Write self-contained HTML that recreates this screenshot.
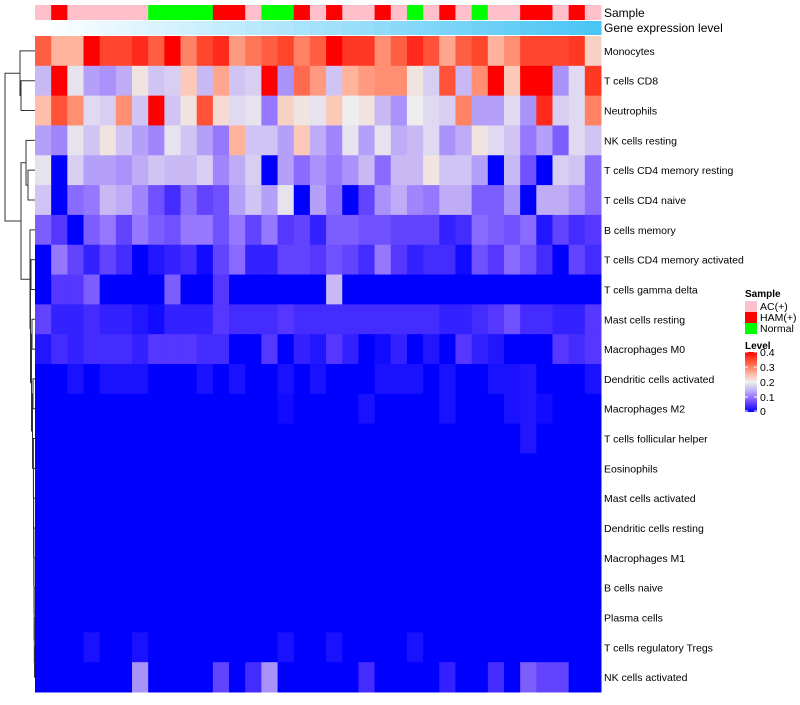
<!DOCTYPE html>
<html><head><meta charset="utf-8">
<style>
body{margin:0;background:#fff;}
svg text{font-family:"Liberation Sans",sans-serif;fill:#000;}
</style></head>
<body>
<svg id="chart" width="800" height="700" xmlns="http://www.w3.org/2000/svg"></svg>
<script>
const rowNames=["Monocytes","T cells CD8","Neutrophils","NK cells resting","T cells CD4 memory resting","T cells CD4 naive","B cells memory","T cells CD4 memory activated","T cells gamma delta","Mast cells resting","Macrophages M0","Dendritic cells activated","Macrophages M2","T cells follicular helper","Eosinophils","Mast cells activated","Dendritic cells resting","Macrophages M1","B cells naive","Plasma cells","T cells regulatory  Tregs","NK cells activated"];
const sampleGroups=["AC","HAM","AC","AC","AC","AC","AC","Normal","Normal","Normal","Normal","HAM","HAM","AC","Normal","Normal","HAM","AC","HAM","AC","AC","HAM","AC","Normal","AC","HAM","AC","Normal","AC","AC","HAM","HAM","AC","HAM","AC"];
const rowMonocytes=[0.33,0.26,0.26,0.4,0.35,0.35,0.37,0.33,0.4,0.3,0.35,0.37,0.28,0.31,0.33,0.35,0.3,0.33,0.4,0.36,0.36,0.29,0.33,0.37,0.34,0.27,0.33,0.35,0.26,0.29,0.35,0.35,0.35,0.36,0.23];
const rowCD8=[0.15,0.4,0.19,0.13,0.12,0.14,0.21,0.16,0.17,0.24,0.15,0.27,0.16,0.17,0.4,0.12,0.32,0.28,0.16,0.26,0.28,0.29,0.29,0.21,0.17,0.34,0.15,0.29,0.4,0.24,0.4,0.4,0.12,0.18,0.36];
const rowNeut=[0.25,0.34,0.29,0.18,0.17,0.29,0.16,0.4,0.16,0.21,0.34,0.22,0.18,0.19,0.1,0.23,0.21,0.19,0.24,0.2,0.21,0.15,0.12,0.2,0.18,0.17,0.3,0.13,0.13,0.18,0.12,0.37,0.17,0.18,0.3];
const rowNKr=[0.13,0.11,0.19,0.16,0.21,0.16,0.13,0.11,0.19,0.16,0.13,0.1,0.26,0.16,0.16,0.13,0.24,0.14,0.11,0.19,0.13,0.19,0.14,0.15,0.18,0.12,0.14,0.21,0.18,0.16,0.1,0.13,0.08,0.18,0.16];
const rowCD4mr=[0.19,0,0.17,0.13,0.13,0.12,0.14,0.16,0.15,0.15,0.17,0.11,0.14,0.17,0,0.13,0.09,0.12,0.1,0.12,0.15,0.09,0.15,0.15,0.21,0.16,0.16,0.13,0,0.15,0.07,0,0.17,0.16,0.09];
const rowCD4n=[0.16,0,0.09,0.1,0.15,0.14,0.11,0.07,0.04,0.09,0.06,0.07,0.13,0.16,0.13,0.19,0,0.13,0.09,0,0.06,0.12,0.14,0.11,0.1,0.14,0.14,0.08,0.08,0.12,0,0.14,0.14,0.12,0.09];
const rowBmem=[0.08,0.05,0,0.08,0.1,0.06,0.1,0.08,0.07,0.1,0.1,0.07,0.1,0.06,0.1,0.05,0.06,0.03,0.08,0.08,0.07,0.07,0.06,0.06,0.06,0.03,0.04,0.09,0.08,0.07,0.09,0.02,0.06,0.04,0.05];
const rowCD4ma=[0,0.1,0.06,0.03,0.06,0.04,0,0.02,0.03,0.04,0.01,0.06,0.09,0.03,0.03,0.06,0.06,0.05,0.07,0.06,0.04,0.1,0.05,0.03,0.04,0.04,0.01,0.07,0.05,0.09,0.07,0.04,0,0.06,0.04];
const rowGD=[0,0.05,0.05,0.08,0,0,0,0,0.08,0,0,0.05,0,0,0,0,0,0,0.15,0,0,0,0,0,0,0,0,0,0,0,0,0,0,0,0];
const rowMastR=[0.06,0.03,0.03,0.04,0.03,0.03,0.02,0.01,0.03,0.03,0.03,0.05,0.04,0.04,0.04,0.05,0.04,0.04,0.04,0.04,0.04,0.04,0.04,0.04,0.04,0.03,0.03,0.04,0.05,0.07,0.04,0.04,0.03,0.03,0.05];
const rowM0=[0.02,0.04,0.03,0.04,0.04,0.04,0.03,0.05,0.05,0.05,0.04,0.04,0,0,0.05,0,0.03,0.02,0.05,0.03,0,0.01,0.03,0,0.02,0,0.05,0.03,0.02,0,0,0,0.05,0.04,0.05];
const rowDCa=[0,0,0.015,0,0.015,0.015,0.015,0,0,0,0.015,0,0.015,0,0,0.015,0,0.015,0,0,0,0.015,0.015,0.015,0,0.015,0,0,0.015,0.015,0.02,0,0,0,0.015];
const rowM2=[0,0,0,0,0,0,0,0,0,0,0,0,0,0,0,0.01,0,0,0,0,0.015,0,0,0,0,0.015,0,0,0,0.015,0.02,0.01,0,0,0];
const rowTfh=[0,0,0,0,0,0,0,0,0,0,0,0,0,0,0,0,0,0,0,0,0,0,0,0,0,0,0,0,0,0,0.02,0,0,0,0];
const rowZero=[0,0,0,0,0,0,0,0,0,0,0,0,0,0,0,0,0,0,0,0,0,0,0,0,0,0,0,0,0,0,0,0,0,0,0];
const rowTreg=[0,0,0,0.015,0,0,0.015,0,0,0,0,0,0,0,0,0.015,0,0,0.015,0,0,0,0,0.015,0,0,0,0,0,0,0,0,0,0,0];
const rowNKa=[0,0,0,0,0,0,0.12,0,0,0,0,0.06,0,0.04,0.12,0,0,0,0,0,0.04,0,0,0,0,0.03,0,0,0.04,0,0.08,0.06,0.06,0,0];
const matrix=[rowMonocytes,rowCD8,rowNeut,rowNKr,rowCD4mr,rowCD4n,rowBmem,rowCD4ma,rowGD,rowMastR,rowM0,rowDCa,rowM2,rowTfh,rowZero,rowZero,rowZero,rowZero,rowZero,rowZero,rowTreg,rowNKa];
const legendTicks=[0.4,0.3,0.2,0.1,0];
const legendLabels=["0.4","0.3","0.2","0.1","0"];

const NS="http://www.w3.org/2000/svg";
const svg=document.getElementById('chart');
const X0=35,X1=601,Y0=36,Y1=692;
const nC=sampleGroups.length,nR=rowNames.length;
const cw=(X1-X0)/nC,rh=(Y1-Y0)/nR;
const xPos=i=>X0+i*cw;
const yPos=r=>Y0+r*rh;
const stops=[[0,[0,0,255]],[0.05,[85,55,255]],[0.1,[150,120,255]],[0.15,[200,185,245]],[0.2,[238,238,238]],[0.25,[255,190,170]],[0.3,[255,130,100]],[0.35,[255,70,45]],[0.4,[255,0,0]]];
function color(v){v=Math.max(0,Math.min(0.4,v));for(let k=1;k<stops.length;k++){if(v<=stops[k][0]){const a=stops[k-1],b=stops[k];const t=(v-a[0])/(b[0]-a[0]);const c=a[1].map((x,j)=>Math.round(x+(b[1][j]-x)*t));return 'rgb('+c.join(',')+')';}}return 'rgb(255,0,0)';}
const groupColor={AC:"#FFC0CB",HAM:"#FF0000",Normal:"#00FF00"};
function mk(tag,attrs,parent){const e=document.createElementNS(NS,tag);for(const k in attrs)e.setAttribute(k,attrs[k]);(parent||svg).appendChild(e);return e;}

const gS=mk('g',{});


sampleGroups.forEach((g,i)=>{const r=mk('rect',{x:xPos(i),y:5,width:cw+0.5,height:15,fill:groupColor[g]},gS);

});
const gG=mk('g',{});


for(let i=0;i<nC;i++){const t=i/(nC-1);const c=[Math.round(255-t*(255-75)),Math.round(255-t*(255-197)),Math.round(255-t*(255-245))];
const r=mk('rect',{x:xPos(i),y:21,width:cw+0.5,height:14,fill:'rgb('+c.join(',')+')'},gG);

}
const t1=mk('text',{x:604,y:17,'font-size':12});t1.textContent='Sample';


const t2=mk('text',{x:604,y:32,'font-size':12});t2.textContent='Gene expression level';



const gH=mk('g',{});


matrix.forEach((row,r)=>row.forEach((v,c)=>{const e=mk('rect',{x:xPos(c),y:yPos(r),width:cw+0.5,height:rh+0.5,fill:color(v)},gH);

}));
rowNames.forEach((n,r)=>{const e=mk('text',{x:604,y:yPos(r)+rh/2+4,'font-size':10.5});e.textContent=n;

});

// dendrogram
let chain=[20,21,34.5];
const chainH=[34.3,34.2,34,33.8,33.6,33.5,33.4];
for(let k=19,j=0;k>=13;k--,j++){chain=[k,chain,chainH[j]];}
const nodeE=[[11,12,33],chain,32.5];
const nodeD=[[9,10,32],nodeE,31.5];
const nodeCin=[[7,8,31],nodeD,30.5];
const nodeC=[6,nodeCin,30];
const nodeB=[3,[4,5,28],26];
const nodeA=[0,[1,2,21],20];
const tree=[nodeA,[nodeB,nodeC,21],5];
const gD=mk('g',{stroke:'#333','stroke-width':1,fill:'none'});


function draw(n){if(typeof n==='number')return [yPos(n)+rh/2,35];const a=draw(n[0]),b=draw(n[1]),h=n[2];
mk('path',{d:'M'+a[1]+','+a[0]+'H'+h+'V'+b[0]+'H'+b[1]},gD);return [(a[0]+b[0])/2,h];}
draw(tree);

const gL=mk('g',{});


const lt=mk('text',{x:745,y:297,'font-size':10,'font-weight':'bold'},gL);lt.textContent='Sample';
[["AC","AC(+)"],["HAM","HAM(+)"],["Normal","Normal"]].forEach((p,i)=>{const r=mk('rect',{x:745,y:301+i*11,width:12,height:11,fill:groupColor[p[0]]},gL);


const t=mk('text',{x:760,y:310+i*11,'font-size':10.5},gL);t.textContent=p[1];

});
const lv=mk('text',{x:745,y:349,'font-size':10,'font-weight':'bold'},gL);lv.textContent='Level';
const defs=mk('defs',{});const lg=mk('linearGradient',{id:'lg',x1:0,y1:0,x2:0,y2:1},defs);
for(let k=stops.length-1;k>=0;k--){mk('stop',{offset:(0.4-stops[k][0])/0.4,'stop-color':'rgb('+stops[k][1].join(',')+')'},lg);}
const lb0=352,lb1=412;const ly=v=>lb1-(v/0.4)*(lb1-lb0);
const bar=mk('rect',{x:745,y:lb0,width:12,height:lb1-lb0,fill:'url(#lg)'},gL);


legendTicks.forEach((v,i)=>{const y=Math.min(ly(v),lb1-1);mk('line',{x1:745,x2:748,y1:y,y2:y,stroke:'#fff'},gL);mk('line',{x1:754,x2:757,y1:y,y2:y,stroke:'#fff'},gL);
const t=mk('text',{x:760,y:y+4,'font-size':10.5},gL);t.textContent=legendLabels[i];

});
</script>
</body></html>
